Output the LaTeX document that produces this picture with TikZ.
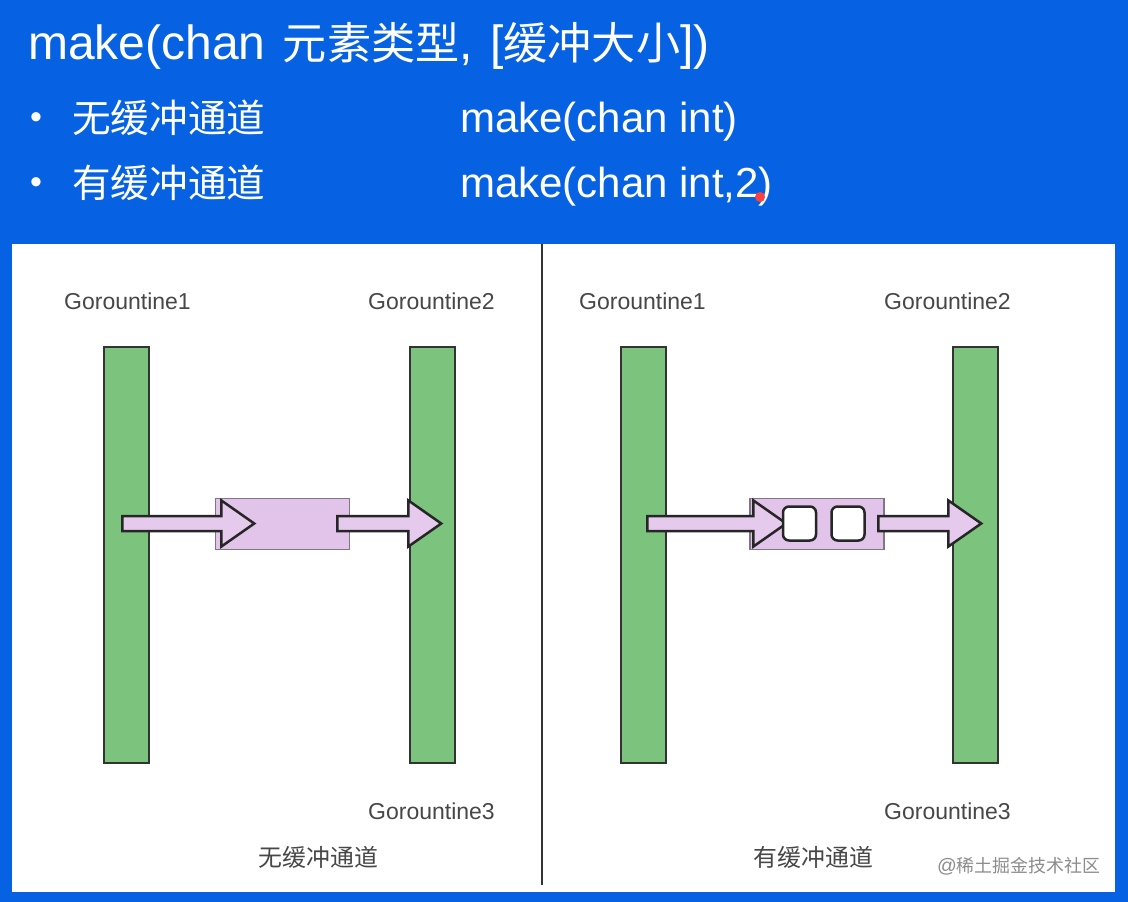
\documentclass[tikz,border=0pt]{standalone}
\usepackage{fontspec}
\setmainfont{Liberation Sans}
\newfontfamily\cjk{Noto Sans CJK SC}[Scale=0.92]
\usetikzlibrary{shapes.arrows}
\usetikzlibrary{positioning}
\definecolor{slideblue}{RGB}{6,98,226}
\definecolor{gorgreen}{RGB}{124,196,126}
\definecolor{buflilac}{RGB}{226,196,234}
\definecolor{arrlilac}{RGB}{230,202,238}
\definecolor{bufedge}{RGB}{128,118,134}
\tikzset{
    mybar/.style = {rectangle, line width=2pt, draw=black!80, fill=gorgreen, minimum width=45pt, minimum height=416pt, inner sep=0pt},
    mybuf/.style = {rectangle, line width=1.8pt, draw=bufedge, fill=buflilac, minimum width=134pt, minimum height=51pt, inner sep=0pt},
    myarrow/.style = {single arrow, anchor=tail, line width=2.5pt, draw=black!85, fill=arrlilac, inner xsep=0pt, inner ysep=6.25pt, single arrow head extend=15.5pt, single arrow tip angle=70},
    myslot/.style = {rectangle, rounded corners=6pt, line width=2.5pt, draw=black!85, fill=white, minimum width=33pt, minimum height=34pt, inner sep=0pt},
    mylabel/.style = {font=\fontsize{23}{27}\selectfont, text=black!72},
    mycap/.style = {font=\fontsize{26}{30}\selectfont\cjk, text=black!72},
    myhead/.style = {anchor=west, text=white, inner sep=0pt},
}

\begin{document}
\begin{tikzpicture}[x=1pt, y=-1pt]
\path[use as bounding box] (0, 0) rectangle (1128, 902);
\fill[slideblue] (0, 0) rectangle (1128, 902);
%
\node[myhead, font=\fontsize{48}{56}\selectfont] at (28, 46) (title) {make(chan\hspace{4pt} {\cjk 元素类型},\hspace{4pt} [{\cjk 缓冲大小}])};
\node[text=white, font=\fontsize{34}{40}\selectfont] at (36, 121) (bula) {•};
\node[myhead, font=\fontsize{42}{50}\selectfont] at (72, 118) (rowa) {{\cjk 无缓冲通道}};
\node[myhead, font=\fontsize{42}{50}\selectfont] at (460, 122) (codea) {make(chan int)};
\node[text=white, font=\fontsize{34}{40}\selectfont] at (36, 186) (bulb) {•};
\node[myhead, font=\fontsize{42}{50}\selectfont] at (72, 183) (rowb) {{\cjk 有缓冲通道}};
\node[myhead, font=\fontsize{42}{50}\selectfont] at (460, 187) (codeb) {make(chan int,2)};
\fill[red!75!white] (760, 197) circle (5);
%
\fill[white] (12, 244) rectangle (1115, 892);
\draw[line width=2.5pt, black!80] (542, 244) -- (542, 885);
%
\node[mylabel] at (127.5, 301) (lga) {Gorountine1};
\node[mylabel] at (431.5, 301) (lgb) {Gorountine2};
\node[mylabel] at (431.5, 811) (lgc) {Gorountine3};
\node[mybar] at (126.5, 555) (gla) {};
\node[mybar] at (432.5, 555) (glb) {};
\node[mybuf] at (282.5, 524) (bufl) {};
\node[myarrow, minimum height=132pt] at (121, 523.5) (arra) {};
\node[myarrow, minimum height=104pt] at (336, 523.5) (arrb) {};
\node[mycap] at (318.5, 857) (capl) {无缓冲通道};
%
\node[mylabel] at (642.5, 301) (rga) {Gorountine1};
\node[mylabel] at (947.5, 301) (rgb) {Gorountine2};
\node[mylabel] at (947.5, 811) (rgc) {Gorountine3};
\node[mybar] at (643, 555) (gra) {};
\node[mybar] at (975, 555) (grb) {};
\node[mybuf] at (817, 524) (bufr) {};
\node[myarrow, minimum height=139pt] at (646, 523.5) (arrc) {};
\node[myarrow, minimum height=103pt] at (877, 523.5) (arrd) {};
\node[myslot] at (799.5, 523.5) (slota) {};
\node[myslot] at (848, 523.5) (slotb) {};
\node[mycap] at (813.5, 857) (capr) {有缓冲通道};
%
\node[anchor=east, font=\fontsize{19.5}{23}\selectfont, text=black!45] at (1104, 866) (mark) {@{\cjk 稀土掘金技术社区}};
\end{tikzpicture}
\end{document}
